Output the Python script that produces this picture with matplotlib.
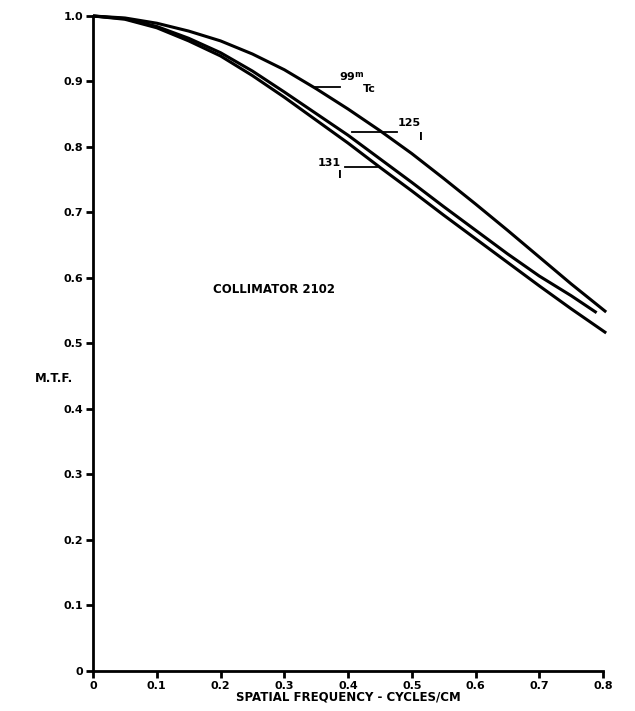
import matplotlib
matplotlib.use('Agg')
import matplotlib.pyplot as plt

plt.rcParams['font.family'] = ['Liberation Sans Narrow', 'DejaVu Sans']
plt.rcParams['font.weight'] = 'bold'

# values (spatial frequency, cycles/cm -> M.T.F.)
freq_tc = [0, 0.05, 0.1, 0.15, 0.2, 0.25, 0.3, 0.35, 0.4, 0.45, 0.5, 0.55, 0.6, 0.65, 0.7, 0.75, 0.805]
mtf_tc = [1.0, 0.997, 0.989, 0.977, 0.962, 0.942, 0.918, 0.889, 0.858, 0.825, 0.79, 0.752, 0.713, 0.673, 0.632, 0.591, 0.548]

freq_125 = [0, 0.05, 0.1, 0.15, 0.2, 0.25, 0.3, 0.35, 0.4, 0.45, 0.5, 0.55, 0.6, 0.65, 0.7, 0.75, 0.79]
mtf_125 = [1.0, 0.996, 0.984, 0.966, 0.944, 0.916, 0.884, 0.851, 0.818, 0.782, 0.746, 0.709, 0.673, 0.637, 0.603, 0.573, 0.547]

freq_131 = [0, 0.05, 0.1, 0.15, 0.2, 0.25, 0.3, 0.35, 0.4, 0.45, 0.5, 0.55, 0.6, 0.65, 0.7, 0.75, 0.805]
mtf_131 = [1.0, 0.995, 0.982, 0.962, 0.939, 0.909, 0.876, 0.841, 0.806, 0.769, 0.733, 0.696, 0.66, 0.624, 0.588, 0.553, 0.516]

xticks = [0, 0.1, 0.2, 0.3, 0.4, 0.5, 0.6, 0.7, 0.8]
xtick_labels = ['0', '0.1', '0.2', '0.3', '0.4', '0.5', '0.6', '0.7', '0.8']
yticks = [0, 0.1, 0.2, 0.3, 0.4, 0.5, 0.6, 0.7, 0.8, 0.9, 1.0]
ytick_labels = ['0', '0.1', '0.2', '0.3', '0.4', '0.5', '0.6', '0.7', '0.8', '0.9', '1.0']

fig = plt.figure(figsize=(6.35, 7.11), dpi=100)
ax = fig.add_axes([0.1465, 0.0563, 0.8031, 0.9212])

for f, m in [(freq_tc, mtf_tc), (freq_125, mtf_125), (freq_131, mtf_131)]:
    ax.plot(f, m, color='black', lw=2.2, solid_capstyle='butt', clip_on=False)

ax.set_xlim(0, 0.8)
ax.set_ylim(0, 1.0)
ax.set_xticks(xticks)
ax.set_xticklabels(xtick_labels)
ax.set_yticks(yticks)
ax.set_yticklabels(ytick_labels)
ax.tick_params(direction='out', length=5, width=2, labelsize=8, pad=2)
for s in ['top', 'right']:
    ax.spines[s].set_visible(False)
for s in ['left', 'bottom']:
    ax.spines[s].set_linewidth(2)

ax.set_xlabel('SPATIAL FREQUENCY - CYCLES/CM', fontsize=8.5, fontweight='bold', labelpad=0)
ax.text(-0.115, 0.447, 'M.T.F.', transform=ax.transAxes, fontsize=8.5, fontweight='bold',
        va='center', ha='left')
ax.text(0.188, 0.582, 'COLLIMATOR 2102', fontsize=8.5, fontweight='bold', va='center')

# curve labels with leader lines
ax.plot([0.345, 0.387], [0.892, 0.892], color='black', lw=1.3)
ax.text(0.387, 0.907, '99', fontsize=8, va='center')
ax.text(0.410, 0.911, 'm', fontsize=6, va='center')
ax.text(0.423, 0.888, 'Tc', fontsize=8, va='center')

ax.plot([0.406, 0.477], [0.823, 0.823], color='black', lw=1.3)
ax.text(0.478, 0.836, '125', fontsize=8, va='center')
ax.text(0.511, 0.815, 'I', fontsize=7.5, va='center')

ax.plot([0.395, 0.445], [0.769, 0.769], color='black', lw=1.3)
ax.text(0.353, 0.775, '131', fontsize=8, va='center')
ax.text(0.385, 0.757, 'I', fontsize=7.5, va='center')

fig.savefig('out.png', dpi=100)
